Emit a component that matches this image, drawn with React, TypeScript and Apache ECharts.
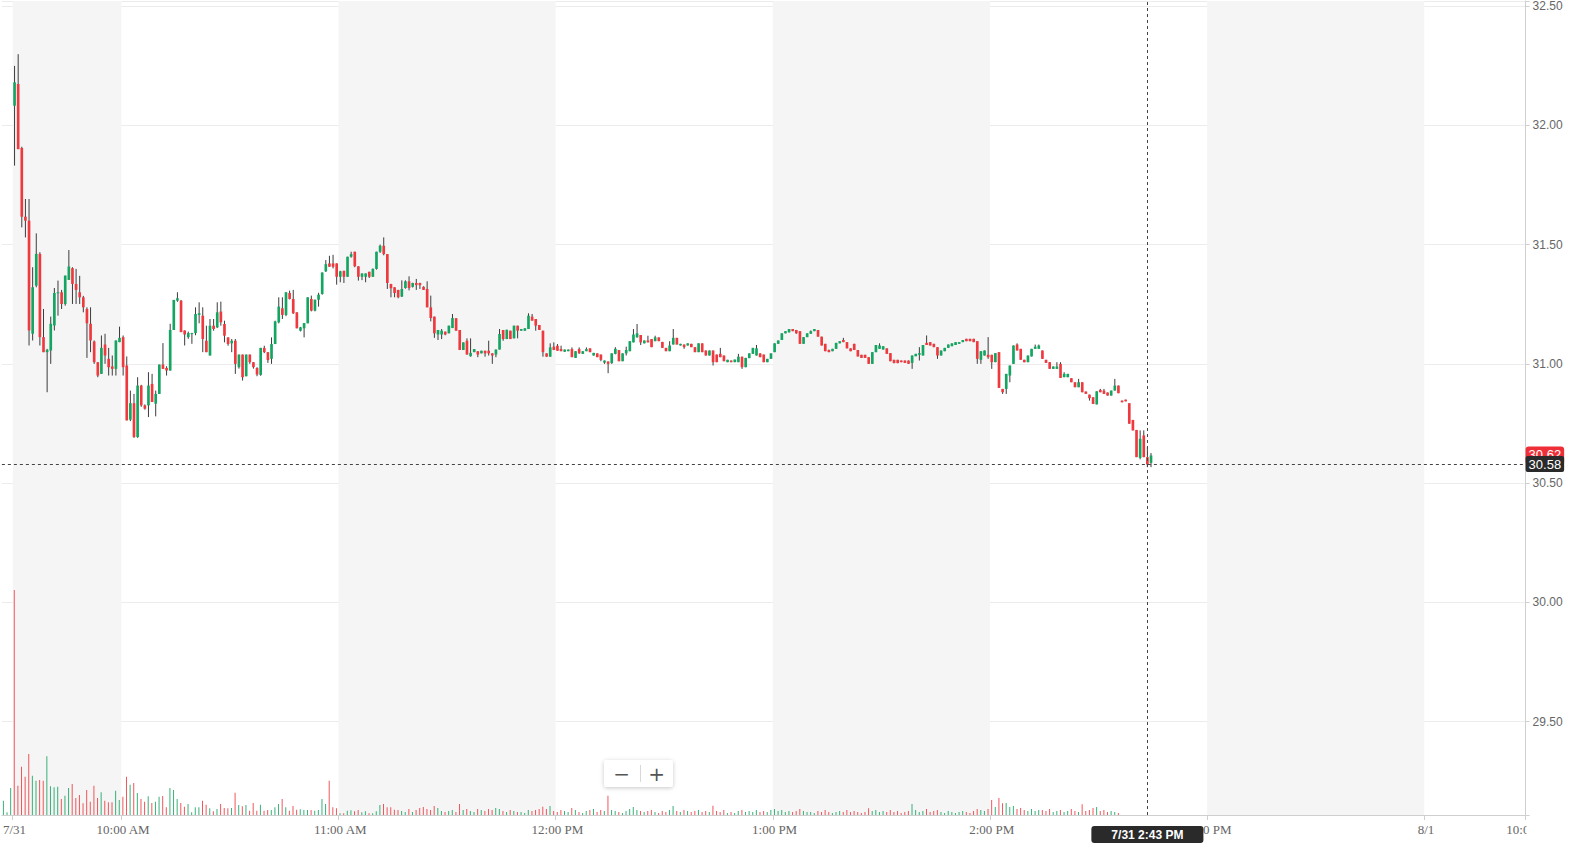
import React, { useEffect, useRef } from 'react';
import * as echarts from 'echarts';

// ---------- categories (one per minute) ----------
const premarketMinutes = ['09:27', '09:28', '09:29'];
const pad = (n: number) => (n < 10 ? '0' + n : '' + n);
const categories: string[] = [];
premarketMinutes.forEach((t) => categories.push('7/31 ' + t));
for (let m = 0; m < 390; m++) {
  const t = 570 + m;
  categories.push('7/31 ' + pad(Math.floor(t / 60)) + ':' + pad(t % 60));
}
for (let m = 0; m < 28; m++) {
  const t = 570 + m;
  categories.push('8/1 ' + pad(Math.floor(t / 60)) + ':' + pad(t % 60));
}

const tickLabels: Record<string, string> = {
  '7/31 09:30': '7/31',
  '7/31 10:00': '10:00 AM',
  '7/31 11:00': '11:00 AM',
  '7/31 12:00': '12:00 PM',
  '7/31 13:00': '1:00 PM',
  '7/31 14:00': '2:00 PM',
  '7/31 15:00': '3:00 PM',
  '8/1 09:30': '8/1',
};
const clippedTickLabel = '10:00 AM';

// ---------- 1-minute candles from 7/31 9:30 AM ----------
const firstCandleCategory = '7/31 09:30';
const candleOpen = [
  32.082, 32.173, 31.905, 31.617, 31.600, 31.126, 31.328, 31.461, 31.112, 31.049,
  31.056, 31.161, 31.297, 31.300, 31.251, 31.352, 31.401, 31.335, 31.300, 31.279,
  31.230, 31.168, 31.094, 31.007, 30.958, 31.081, 31.021, 30.989, 30.979, 31.091,
  31.112, 30.993, 30.766, 30.835, 30.693, 30.909, 30.826, 30.826, 30.916, 30.833,
  30.874, 30.997, 30.983, 30.972, 31.142, 31.265, 31.265, 31.140, 31.112, 31.126,
  31.129, 31.205, 31.202, 31.097, 31.035, 31.160, 31.153, 31.219, 31.167, 31.111,
  31.086, 31.097, 30.986, 31.039, 30.948, 31.039, 31.007, 30.983, 30.954, 31.067,
  31.049, 31.021, 31.083, 31.174, 31.233, 31.205, 31.297, 31.272, 31.216, 31.139,
  31.149, 31.170, 31.272, 31.223, 31.269, 31.293, 31.388, 31.421, 31.421, 31.421,
  31.365, 31.390, 31.365, 31.449, 31.470, 31.409, 31.365, 31.365, 31.386, 31.365,
  31.398, 31.470, 31.495, 31.460, 31.335, 31.321, 31.310, 31.282, 31.318, 31.346,
  31.323, 31.339, 31.339, 31.323, 31.314, 31.237, 31.198, 31.123, 31.123, 31.135,
  31.128, 31.150, 31.191, 31.142, 31.058, 31.097, 31.032, 31.049, 31.053, 31.044,
  31.055, 31.055, 31.044, 31.039, 31.060, 31.142, 31.104, 31.139, 31.107, 31.160,
  31.139, 31.139, 31.146, 31.198, 31.188, 31.163, 31.139, 31.044, 31.030, 31.072,
  31.076, 31.062, 31.051, 31.053, 31.062, 31.025, 31.062, 31.042, 31.053, 31.065,
  31.035, 31.044, 31.039, 31.005, 31.010, 31.003, 31.042, 31.058, 31.011, 31.044,
  31.053, 31.090, 31.111, 31.121, 31.086, 31.098, 31.104, 31.095, 31.111, 31.092,
  31.067, 31.053, 31.081, 31.109, 31.077, 31.081, 31.077, 31.084, 31.070, 31.049,
  31.086, 31.056, 31.035, 31.056, 31.039, 31.042, 31.035, 31.007, 31.014, 31.007,
  31.007, 31.030, 30.986, 31.024, 31.042, 31.035, 31.044, 31.039, 31.007, 31.021,
  31.049, 31.084, 31.100, 31.128, 31.132, 31.146, 31.142, 31.137, 31.084, 31.112,
  31.126, 31.137, 31.142, 31.114, 31.084, 31.058, 31.053, 31.063, 31.086, 31.100,
  31.091, 31.065, 31.084, 31.058, 31.038, 31.038, 31.028, 31.000, 31.049, 31.063,
  31.060, 31.065, 31.045, 31.017, 31.017, 31.014, 31.014, 31.014, 31.004, 31.032,
  31.038, 31.035, 31.088, 31.091, 31.084, 31.070, 31.035, 31.053, 31.067, 31.074,
  31.079, 31.084, 31.091, 31.105, 31.105, 31.105, 31.095, 31.017, 31.035, 31.038,
  31.038, 31.007, 31.049, 30.895, 30.895, 30.951, 31.000, 31.081, 31.063, 31.017,
  31.007, 31.031, 31.063, 31.063, 31.056, 31.017, 31.007, 30.979, 30.979, 31.000,
  30.944, 30.944, 30.940, 30.923, 30.902, 30.923, 30.884, 30.871, 30.860, 30.830,
  30.891, 30.888, 30.880, 30.867, 30.888, 30.909, 30.846, 30.850, 30.835, 30.765,
  30.723, 30.606, 30.700, 30.609, 30.585,
];
const candleClose = [
  32.180, 31.900, 31.617, 31.600, 31.140, 31.321, 31.461, 31.112, 31.049, 31.059,
  31.168, 31.297, 31.300, 31.251, 31.370, 31.408, 31.335, 31.310, 31.279, 31.237,
  31.170, 31.098, 31.007, 30.951, 31.067, 31.035, 30.986, 30.979, 31.098, 31.109,
  30.986, 30.763, 30.835, 30.693, 30.909, 30.826, 30.812, 30.909, 30.840, 30.874,
  30.997, 30.979, 30.972, 31.142, 31.268, 31.275, 31.133, 31.123, 31.129, 31.129,
  31.209, 31.212, 31.104, 31.049, 31.160, 31.146, 31.216, 31.174, 31.118, 31.083,
  31.097, 31.000, 31.039, 30.944, 31.039, 31.007, 30.986, 30.955, 31.067, 31.049,
  31.016, 31.083, 31.178, 31.240, 31.205, 31.300, 31.272, 31.212, 31.149, 31.153,
  31.171, 31.279, 31.223, 31.269, 31.290, 31.383, 31.418, 31.407, 31.407, 31.365,
  31.388, 31.365, 31.449, 31.460, 31.409, 31.365, 31.379, 31.379, 31.365, 31.398,
  31.470, 31.495, 31.460, 31.339, 31.317, 31.297, 31.279, 31.314, 31.346, 31.318,
  31.339, 31.330, 31.330, 31.310, 31.237, 31.192, 31.128, 31.142, 31.139, 31.123,
  31.160, 31.192, 31.139, 31.058, 31.090, 31.039, 31.046, 31.062, 31.039, 31.055,
  31.044, 31.044, 31.035, 31.060, 31.125, 31.104, 31.143, 31.104, 31.160, 31.139,
  31.146, 31.149, 31.202, 31.181, 31.160, 31.142, 31.049, 31.030, 31.069, 31.058,
  31.055, 31.053, 31.060, 31.060, 31.028, 31.053, 31.044, 31.053, 31.062, 31.049,
  31.046, 31.028, 31.017, 31.014, 31.000, 31.044, 31.063, 31.011, 31.044, 31.058,
  31.095, 31.123, 31.128, 31.090, 31.098, 31.090, 31.070, 31.111, 31.095, 31.067,
  31.053, 31.077, 31.109, 31.081, 31.084, 31.070, 31.086, 31.070, 31.049, 31.086,
  31.049, 31.035, 31.056, 31.007, 31.007, 31.028, 31.011, 31.017, 31.007, 31.018,
  31.030, 30.986, 31.025, 31.044, 31.067, 31.065, 31.028, 31.007, 31.021, 31.044,
  31.086, 31.098, 31.128, 31.137, 31.146, 31.137, 31.128, 31.084, 31.112, 31.128,
  31.137, 31.146, 31.114, 31.077, 31.053, 31.049, 31.063, 31.088, 31.095, 31.091,
  31.065, 31.053, 31.058, 31.031, 31.025, 31.025, 31.000, 31.049, 31.079, 31.077,
  31.074, 31.042, 31.011, 31.003, 31.003, 31.007, 31.004, 31.000, 31.035, 31.042,
  31.045, 31.079, 31.079, 31.077, 31.070, 31.035, 31.056, 31.067, 31.081, 31.086,
  31.091, 31.091, 31.100, 31.095, 31.095, 31.091, 31.021, 31.053, 31.056, 31.028,
  31.007, 31.045, 30.899, 30.881, 30.958, 30.993, 31.077, 31.056, 31.017, 31.007,
  31.035, 31.063, 31.072, 31.077, 31.021, 31.004, 30.979, 30.989, 30.989, 30.941,
  30.958, 30.958, 30.923, 30.902, 30.923, 30.881, 30.874, 30.856, 30.832, 30.885,
  30.881, 30.874, 30.867, 30.888, 30.909, 30.877, 30.839, 30.843, 30.749, 30.721,
  30.609, 30.686, 30.609, 30.578, 30.616,
];
const candleLow = [
  31.831, 31.900, 31.572, 31.530, 31.077, 31.098, 31.321, 31.077, 31.049, 30.881,
  31.000, 31.140, 31.202, 31.230, 31.244, 31.352, 31.251, 31.251, 31.251, 31.216,
  31.025, 31.049, 31.000, 30.944, 30.958, 31.000, 30.951, 30.951, 30.951, 31.091,
  30.951, 30.763, 30.760, 30.690, 30.690, 30.820, 30.808, 30.777, 30.840, 30.780,
  30.874, 30.979, 30.951, 30.972, 31.142, 31.260, 31.133, 31.077, 31.105, 31.084,
  31.120, 31.170, 31.049, 31.049, 31.035, 31.139, 31.150, 31.160, 31.090, 31.076,
  31.049, 30.958, 30.980, 30.930, 30.948, 31.000, 30.980, 30.948, 30.950, 31.045,
  31.004, 31.000, 31.083, 31.170, 31.188, 31.200, 31.270, 31.209, 31.149, 31.136,
  31.111, 31.170, 31.220, 31.220, 31.240, 31.290, 31.385, 31.407, 31.400, 31.332,
  31.342, 31.339, 31.365, 31.445, 31.405, 31.349, 31.351, 31.342, 31.360, 31.365,
  31.395, 31.465, 31.455, 31.314, 31.279, 31.279, 31.275, 31.280, 31.315, 31.308,
  31.320, 31.310, 31.314, 31.310, 31.237, 31.178, 31.109, 31.100, 31.104, 31.120,
  31.128, 31.150, 31.139, 31.058, 31.058, 31.039, 31.030, 31.049, 31.028, 31.044,
  31.030, 31.035, 31.000, 31.028, 31.060, 31.097, 31.104, 31.104, 31.107, 31.107,
  31.139, 31.139, 31.146, 31.181, 31.139, 31.142, 31.030, 31.030, 31.030, 31.058,
  31.055, 31.053, 31.050, 31.053, 31.028, 31.025, 31.042, 31.042, 31.053, 31.049,
  31.035, 31.028, 31.011, 31.000, 30.961, 31.000, 31.040, 31.011, 31.011, 31.035,
  31.053, 31.090, 31.110, 31.079, 31.086, 31.090, 31.070, 31.095, 31.095, 31.067,
  31.053, 31.053, 31.081, 31.081, 31.077, 31.063, 31.077, 31.070, 31.049, 31.049,
  31.049, 31.035, 31.035, 30.993, 31.007, 31.028, 31.011, 31.007, 31.007, 31.007,
  31.007, 30.979, 30.986, 31.024, 31.042, 31.035, 31.028, 31.007, 31.007, 31.021,
  31.049, 31.084, 31.100, 31.128, 31.132, 31.137, 31.126, 31.084, 31.084, 31.112,
  31.126, 31.137, 31.114, 31.077, 31.053, 31.049, 31.053, 31.063, 31.086, 31.091,
  31.065, 31.053, 31.058, 31.031, 31.025, 31.025, 31.000, 31.000, 31.049, 31.063,
  31.060, 31.042, 31.011, 31.003, 31.003, 31.007, 31.004, 31.000, 30.979, 31.032,
  31.014, 31.035, 31.079, 31.077, 31.070, 31.021, 31.035, 31.053, 31.067, 31.074,
  31.079, 31.084, 31.091, 31.095, 31.095, 31.091, 31.000, 31.000, 31.035, 31.021,
  30.979, 31.007, 30.899, 30.874, 30.874, 30.923, 31.000, 31.056, 31.017, 31.007,
  31.007, 31.031, 31.063, 31.063, 31.021, 31.004, 30.979, 30.979, 30.979, 30.941,
  30.944, 30.944, 30.923, 30.902, 30.902, 30.881, 30.874, 30.846, 30.832, 30.830,
  30.881, 30.874, 30.867, 30.867, 30.888, 30.877, 30.839, 30.843, 30.749, 30.721,
  30.609, 30.600, 30.609, 30.567, 30.567,
];
const candleHigh = [
  32.249, 32.298, 31.910, 31.691, 31.691, 31.405, 31.547, 31.468, 31.230, 31.063,
  31.198, 31.318, 31.349, 31.310, 31.370, 31.477, 31.405, 31.398, 31.369, 31.285,
  31.237, 31.237, 31.098, 31.007, 31.119, 31.126, 31.067, 31.035, 31.098, 31.156,
  31.119, 31.031, 30.888, 30.874, 30.944, 30.912, 30.830, 30.965, 30.958, 30.888,
  30.997, 31.087, 30.990, 31.168, 31.268, 31.300, 31.268, 31.140, 31.135, 31.130,
  31.237, 31.258, 31.237, 31.160, 31.188, 31.188, 31.258, 31.261, 31.181, 31.111,
  31.104, 31.104, 31.039, 31.039, 31.039, 31.039, 31.007, 30.986, 31.067, 31.076,
  31.049, 31.111, 31.181, 31.279, 31.279, 31.300, 31.307, 31.310, 31.216, 31.155,
  31.171, 31.279, 31.286, 31.269, 31.298, 31.383, 31.435, 31.453, 31.457, 31.421,
  31.390, 31.390, 31.449, 31.470, 31.470, 31.409, 31.379, 31.379, 31.386, 31.400,
  31.470, 31.500, 31.530, 31.460, 31.335, 31.321, 31.310, 31.350, 31.350, 31.367,
  31.340, 31.356, 31.340, 31.325, 31.346, 31.286, 31.198, 31.142, 31.146, 31.135,
  31.160, 31.209, 31.192, 31.142, 31.090, 31.107, 31.107, 31.062, 31.053, 31.055,
  31.055, 31.097, 31.044, 31.060, 31.146, 31.142, 31.143, 31.139, 31.160, 31.160,
  31.146, 31.149, 31.212, 31.209, 31.188, 31.163, 31.139, 31.044, 31.086, 31.090,
  31.083, 31.076, 31.060, 31.060, 31.069, 31.053, 31.069, 31.053, 31.069, 31.065,
  31.046, 31.044, 31.039, 31.014, 31.010, 31.044, 31.070, 31.058, 31.044, 31.072,
  31.095, 31.146, 31.167, 31.121, 31.098, 31.118, 31.104, 31.118, 31.111, 31.092,
  31.067, 31.095, 31.146, 31.109, 31.084, 31.081, 31.086, 31.084, 31.070, 31.086,
  31.086, 31.056, 31.056, 31.056, 31.039, 31.067, 31.035, 31.017, 31.014, 31.018,
  31.042, 31.030, 31.025, 31.044, 31.067, 31.079, 31.044, 31.039, 31.021, 31.044,
  31.086, 31.098, 31.128, 31.137, 31.146, 31.146, 31.142, 31.137, 31.112, 31.128,
  31.140, 31.146, 31.142, 31.114, 31.084, 31.060, 31.063, 31.088, 31.095, 31.109,
  31.091, 31.065, 31.084, 31.058, 31.038, 31.038, 31.028, 31.049, 31.079, 31.086,
  31.074, 31.065, 31.045, 31.017, 31.017, 31.014, 31.014, 31.014, 31.035, 31.042,
  31.070, 31.079, 31.119, 31.091, 31.084, 31.070, 31.056, 31.067, 31.081, 31.086,
  31.091, 31.091, 31.100, 31.105, 31.105, 31.105, 31.095, 31.053, 31.056, 31.112,
  31.038, 31.045, 31.049, 30.895, 30.958, 30.993, 31.077, 31.086, 31.063, 31.017,
  31.035, 31.063, 31.081, 31.081, 31.056, 31.017, 31.007, 30.989, 31.007, 31.007,
  30.965, 30.958, 30.940, 30.923, 30.937, 30.923, 30.884, 30.871, 30.860, 30.885,
  30.895, 30.895, 30.880, 30.888, 30.937, 30.909, 30.846, 30.850, 30.835, 30.765,
  30.723, 30.721, 30.721, 30.651, 30.626,
];

// ---------- volume (thousands), one per category starting 7/31 9:27 AM ----------
const premarketVolume = [14.3, 2.7, 27];
const sessionVolume = [
  225, 29.3, 48.3, 38.3, 61, 39.3, 34.3, 35, 34.3, 58.7,
  28.7, 27.7, 28.3, 16, 19.3, 27, 31, 17, 20, 11.7,
  25, 13.3, 29.3, 17, 22.7, 14.3, 12.7, 12.7, 24.3, 15,
  18.3, 38.3, 30.3, 32, 22, 16, 13.3, 18.7, 12, 13.3,
  18.3, 19, 7.7, 27, 25, 16, 12, 8.3, 11, 2.7,
  7.7, 7.7, 14.3, 10.3, 6.7, 3.7, 6, 11, 7, 6.7,
  7, 22.3, 10, 8.7, 10, 4.3, 12, 4.3, 10.3, 4.3,
  5, 5, 7.7, 11, 16, 7.7, 4.3, 9, 5.3, 5.7,
  5, 5, 5, 4.3, 5, 16, 11, 34.3, 7.7, 6.7,
  1.7, 1.7, 4.3, 4.7, 3.7, 5, 2.7, 3.7, 1.7, 1.7,
  3.7, 10, 11, 7.7, 7.7, 5.3, 5,
  4, 3, 6, 3, 5, 7, 8, 6, 5, 9,
  7, 4, 3, 4, 5, 3, 11, 5, 6, 4,
  3, 6, 5, 4, 6, 5, 7, 6, 4, 3,
  5, 4, 3, 3, 2, 5, 4, 5, 6, 8.3,
  6, 9, 4, 3, 5, 4, 3, 7, 5, 3,
  2, 4, 5, 6, 3, 5, 4, 19.3, 5, 4,
  3, 2, 4, 6, 8, 5, 4, 3, 4, 5,
  3, 2, 4, 3, 5, 9, 4, 3, 5, 4,
  3, 4, 5, 3, 4, 3, 9.3, 4, 3, 5,
  2, 3, 2, 4, 5, 3, 4, 3, 5, 3,
  4, 3, 5, 6, 4, 5, 3, 4, 3, 4,
  6, 4, 3, 3, 2, 4, 3, 5, 3, 2,
  3, 4, 3, 5, 3, 4, 3, 2, 3, 6.7,
  4, 5, 3, 4, 3, 5, 3, 4, 2, 3,
  4, 11, 5, 3, 4, 6, 3, 4, 5, 3,
  2, 4, 3, 2, 3, 4, 3, 2, 4, 6,
  5, 4, 6, 15, 8, 17, 11.7, 12, 8, 9,
  6, 7, 5, 4, 6, 4, 5, 5, 4, 6,
  3, 4, 5, 3, 4, 6, 4, 3, 10.7, 4,
  5, 7, 8, 4, 5, 3, 4, 3, 2,
];
// minutes (from 9:30) whose volume bar is drawn as a down bar although the candle is up
const downVolumeMinutes = [0];

// ---------- crosshair / last price ----------
const crossTime = '7/31 14:43';
const crossTimeLabel = '7/31 2:43 PM';
const crossPrice = 30.58;
const lastPrice = 30.62;

// ---------- axis range ----------
const priceMin = 29.109;
const priceMax = 32.521;
const volumeAxisMax = 815;

const RED = '#ee3a3f';
const GREEN = '#14a562';
const GRID = { left: 1.6, top: 0, width: 1524, height: 815 };

export default function App() {
  const ref = useRef<HTMLDivElement>(null);

  useEffect(() => {
    if (!ref.current) return;
    const chart = echarts.init(ref.current, undefined, { renderer: 'svg' });

    const startIdx = categories.indexOf(firstCandleCategory);
    const candleData = candleOpen.map((o, i) => [startIdx + i, o, candleClose[i], candleLow[i], candleHigh[i]]);
    const volumeValues = [...premarketVolume, ...sessionVolume];
    const volumeData = volumeValues.map((v, i) => {
      const ci = i - startIdx;
      let up = ci < 0 ? true : candleClose[ci] >= candleOpen[ci];
      if (downVolumeMinutes.indexOf(ci) >= 0) up = false;
      return { value: v, itemStyle: { color: up ? GREEN : RED, opacity: 0.85 } };
    });

    const isTick = (_i: number, v: string) => Object.prototype.hasOwnProperty.call(tickLabels, v);

    chart.setOption({
      animation: false,
      grid: [
        { ...GRID, containLabel: false },
        { ...GRID, containLabel: false },
      ],
      xAxis: [
        {
          type: 'category',
          data: categories,
          gridIndex: 0,
          boundaryGap: true,
          axisLine: { show: true, lineStyle: { color: '#cfcfcf' } },
          axisTick: { show: true, interval: isTick, length: 5, lineStyle: { color: '#cfcfcf' } },
          axisLabel: {
            show: true,
            interval: isTick,
            formatter: (v: string) => tickLabels[v] || '',
            color: '#666',
            fontFamily: '"Liberation Serif", "Times New Roman", serif',
            fontSize: 13,
            margin: 8,
          },
          splitLine: { show: false },
          splitArea: {
            show: true,
            interval: isTick,
            areaStyle: { color: ['rgba(255,255,255,0)', '#f5f5f5'] },
          },
        },
        {
          type: 'category',
          data: categories,
          gridIndex: 1,
          boundaryGap: true,
          show: false,
        },
      ],
      yAxis: [
        {
          type: 'value',
          gridIndex: 0,
          position: 'right',
          min: priceMin,
          max: priceMax,
          splitNumber: 7,
          minInterval: 0.5,
          maxInterval: 0.5,
          axisLine: { show: true, lineStyle: { color: '#cfcfcf' } },
          axisTick: { show: true, length: 4, lineStyle: { color: '#cfcfcf' } },
          axisLabel: {
            margin: 7,
            color: '#666',
            fontSize: 12,
            fontFamily: '"Liberation Sans", Arial, sans-serif',
            formatter: (v: number) => (Math.abs(v * 2 - Math.round(v * 2)) < 1e-6 ? v.toFixed(2) : ''),
          },
          splitLine: { show: true, lineStyle: { color: '#ececec' } },
        },
        {
          type: 'value',
          gridIndex: 1,
          min: 0,
          max: volumeAxisMax,
          show: false,
          splitLine: { show: false },
        },
      ],
      series: [
        {
          type: 'bar',
          name: 'Volume',
          xAxisIndex: 1,
          yAxisIndex: 1,
          barWidth: 1,
          silent: true,
          data: volumeData,
          z: 1,
        },
        {
          type: 'custom',
          name: 'Price',
          xAxisIndex: 0,
          yAxisIndex: 0,
          silent: true,
          z: 3,
          dimensions: ['idx', 'open', 'close', 'low', 'high'],
          encode: { x: 0, y: [1, 2, 3, 4] },
          data: candleData,
          renderItem: (_params: any, api: any) => {
            const idx = api.value(0);
            const o = api.value(1);
            const c = api.value(2);
            const l = api.value(3);
            const h = api.value(4);
            const pO = api.coord([idx, o]);
            const pC = api.coord([idx, c]);
            const pL = api.coord([idx, l]);
            const pH = api.coord([idx, h]);
            const bw = api.size([1, 0])[0] * 0.74;
            const x = pO[0];
            const top = Math.min(pO[1], pC[1]);
            const hgt = Math.max(Math.abs(pO[1] - pC[1]), 1);
            const up = c >= o;
            return {
              type: 'group',
              children: [
                { type: 'line', shape: { x1: x, y1: pH[1], x2: x, y2: pL[1] }, style: { stroke: '#3c3c3c', lineWidth: 1 } },
                { type: 'rect', shape: { x: x - bw / 2, y: top, width: bw, height: hgt }, style: { fill: up ? GREEN : RED } },
              ],
            };
          },
          markLine: {
            silent: true,
            symbol: ['none', 'none'],
            animation: false,
            data: [
              {
                yAxis: lastPrice,
                lineStyle: { color: 'rgba(0,0,0,0)', width: 0 },
                label: {
                  show: true,
                  position: 'end',
                  distance: 0,
                  formatter: lastPrice.toFixed(2),
                  color: '#fff',
                  backgroundColor: '#ef2f37',
                  padding: [2, 3, 1, 3],
                  borderRadius: [3, 3, 0, 0],
                  fontSize: 13,
                  fontFamily: '"Liberation Sans", Arial, sans-serif',
                },
              },
              {
                yAxis: crossPrice,
                lineStyle: { color: '#444', type: [3, 3], width: 1 },
                label: {
                  show: true,
                  position: 'end',
                  distance: 0,
                  formatter: crossPrice.toFixed(2),
                  color: '#fff',
                  backgroundColor: '#2a2a2a',
                  padding: [2, 3, 1, 3],
                  borderRadius: 2,
                  fontSize: 13,
                  fontFamily: '"Liberation Sans", Arial, sans-serif',
                },
              },
              {
                xAxis: crossTime,
                lineStyle: { color: '#444', type: [3, 3], width: 1 },
                label: {
                  show: true,
                  position: 'start',
                  distance: 11,
                  formatter: crossTimeLabel,
                  color: '#fff',
                  backgroundColor: '#2a2a2a',
                  padding: [3, 20, 2, 20],
                  borderRadius: 3,
                  fontSize: 12,
                  fontWeight: 'bold',
                  fontFamily: '"Liberation Sans", Arial, sans-serif',
                },
              },
            ],
          },
        },
      ],
    });

    // clipped next-session tick label (10:00 AM on 8/1) and zoom buttons
    const lastSessionCat = '8/1 09:30';
    const p0 = chart.convertToPixel({ xAxisIndex: 0 }, lastSessionCat) as number;
    const p1 = chart.convertToPixel({ xAxisIndex: 0 }, '8/1 09:31') as number;
    const bw = p1 - p0;
    const tenX = p0 - bw / 2 + 30 * bw;
    const gridRight = GRID.left + GRID.width;
    chart.setOption({
      graphic: [
        {
          type: 'text',
          x: tenX,
          y: GRID.top + GRID.height + 8,
          z: 5,
          style: {
            text: clippedTickLabel,
            textAlign: 'center',
            textVerticalAlign: 'top',
            fill: '#666',
            font: '13px "Liberation Serif", "Times New Roman", serif',
          },
        },
        {
          type: 'rect',
          z: 6,
          shape: { x: gridRight + 1, y: GRID.top + GRID.height + 2, width: 60, height: 28 },
          style: { fill: '#fff' },
        },
        {
          type: 'group',
          x: 604,
          y: 760,
          z: 10,
          children: [
            {
              type: 'rect',
              shape: { x: 0, y: 0, width: 69, height: 27, r: 3 },
              style: { fill: '#fff', shadowBlur: 4, shadowOffsetY: 1, shadowColor: 'rgba(0,0,0,0.22)' },
            },
            {
              type: 'line',
              shape: { x1: 36.5, y1: 5, x2: 36.5, y2: 22 },
              style: { stroke: '#d8d8d8', lineWidth: 1 },
            },
            {
              type: 'text',
              x: 17.5,
              y: 13.5,
              style: { text: '−', textAlign: 'center', textVerticalAlign: 'middle', fill: '#555', font: '20px "DejaVu Sans", sans-serif' },
            },
            {
              type: 'text',
              x: 52.5,
              y: 13.5,
              style: { text: '+', textAlign: 'center', textVerticalAlign: 'middle', fill: '#555', font: '20px "DejaVu Sans", sans-serif' },
            },
          ],
        },
      ],
    });

    return () => chart.dispose();
  }, []);

  return (
    <div
      ref={ref}
      style={{ position: 'fixed', left: 0, top: 0, width: 1573, height: 847, background: '#fff' }}
    />
  );
}
